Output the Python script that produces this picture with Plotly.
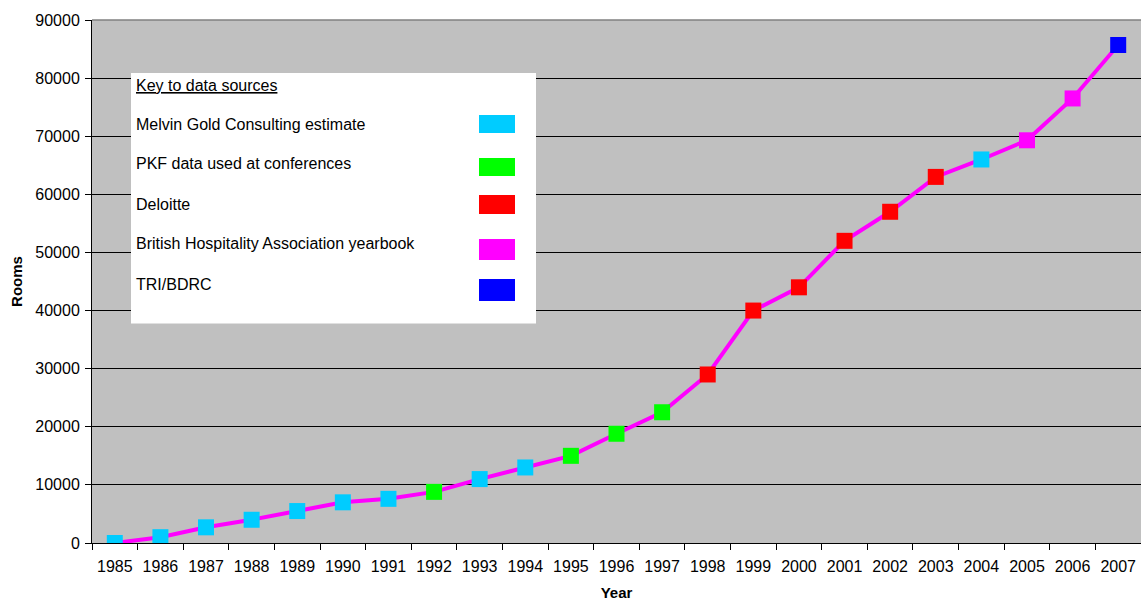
import plotly.graph_objects as go

years = [str(y) for y in range(1985, 2008)]
rooms = [0, 1000, 2700, 4000, 5500, 7000, 7600, 8800, 11000, 13000, 15000, 18800,
         22500, 29000, 40000, 44000, 52000, 57000, 63000, 66000, 69300, 76500, 85700]
sources = ["MG", "MG", "MG", "MG", "MG", "MG", "MG", "PKF", "MG", "MG", "PKF", "PKF",
           "PKF", "DEL", "DEL", "DEL", "DEL", "DEL", "DEL", "MG", "BHA", "BHA", "TRI"]
source_keys = ["MG", "PKF", "DEL", "BHA", "TRI"]
source_labels = ["Melvin Gold Consulting estimate", "PKF data used at conferences",
                 "Deloitte", "British Hospitality Association yearbook", "TRI/BDRC"]
source_colors = ["#00CCFF", "#00FF00", "#FF0000", "#FF00FF", "#0000FF"]
color_map = dict(zip(source_keys, source_colors))

FONT = "Liberation Sans, Arial, sans-serif"

fig = go.Figure()
fig.add_trace(go.Scatter(
    x=years, y=rooms, mode="lines+markers",
    line=dict(color="#FF00FF", width=4),
    marker=dict(symbol="square", size=16, color=[color_map[s] for s in sources],
                line=dict(width=0)),
    showlegend=False, hoverinfo="x+y"))

# Key box (paper coordinates of the plot area)
L, R, T, B = 92, 1141, 20, 543
def px(x): return (x - L) / (R - L)
def py(y): return (B - y) / (B - T)

shapes = [dict(type="rect", xref="paper", yref="paper", x0=px(131), x1=px(536),
               y0=py(323.5), y1=py(73), fillcolor="white", line=dict(width=0), layer="above")]
annotations = [dict(xref="paper", yref="paper", x=px(134), y=py(85), xanchor="left", yanchor="middle",
                    text="<u>Key to data sources</u>", showarrow=False,
                    font=dict(family=FONT, size=16, color="black"))]
text_y = [124, 163, 204, 243, 284]
sw_y = [(115, 133), (158, 176), (195, 214), (239, 260), (279, 301)]
for lab, col, ty, (s0, s1) in zip(source_labels, source_colors, text_y, sw_y):
    annotations.append(dict(xref="paper", yref="paper", x=px(134), y=py(ty), xanchor="left",
                            yanchor="middle", text=lab, showarrow=False,
                            font=dict(family=FONT, size=16, color="black")))
    shapes.append(dict(type="rect", xref="paper", yref="paper", x0=px(479), x1=px(515),
                       y0=py(s1), y1=py(s0), fillcolor=col, line=dict(width=0), layer="above"))
# top border of plot area
shapes.append(dict(type="line", xref="paper", yref="paper", x0=0, x1=1, y0=1, y1=1,
                   line=dict(color="#808080", width=1.5), layer="above"))

fig.update_layout(
    width=1141, height=601,
    margin=dict(l=92, r=0, t=20, b=58),
    paper_bgcolor="white", plot_bgcolor="#C0C0C0",
    font=dict(family=FONT, size=16, color="black"),
    shapes=shapes, annotations=annotations,
    xaxis=dict(type="category", range=[-0.5, 22.5], tickson="boundaries",
               ticks="outside", ticklen=6, tickcolor="black", showgrid=False,
               showline=True, linecolor="black", linewidth=1, zeroline=False,
               ticklabelstandoff=9,
               title=dict(text="<b>Year</b>", font=dict(size=15), standoff=14),
               tickfont=dict(size=16)),
    yaxis=dict(range=[0, 90000], dtick=10000, tickformat="d", ticks="outside", ticklen=6,
               tickcolor="black", showgrid=True, gridcolor="black", gridwidth=1,
               showline=True, linecolor="black", linewidth=1, zeroline=False,
               ticklabelstandoff=2,
               title=dict(text="<b>Rooms</b>", font=dict(size=15), standoff=9),
               tickfont=dict(size=16)),
)

fig.write_html("out.html")
